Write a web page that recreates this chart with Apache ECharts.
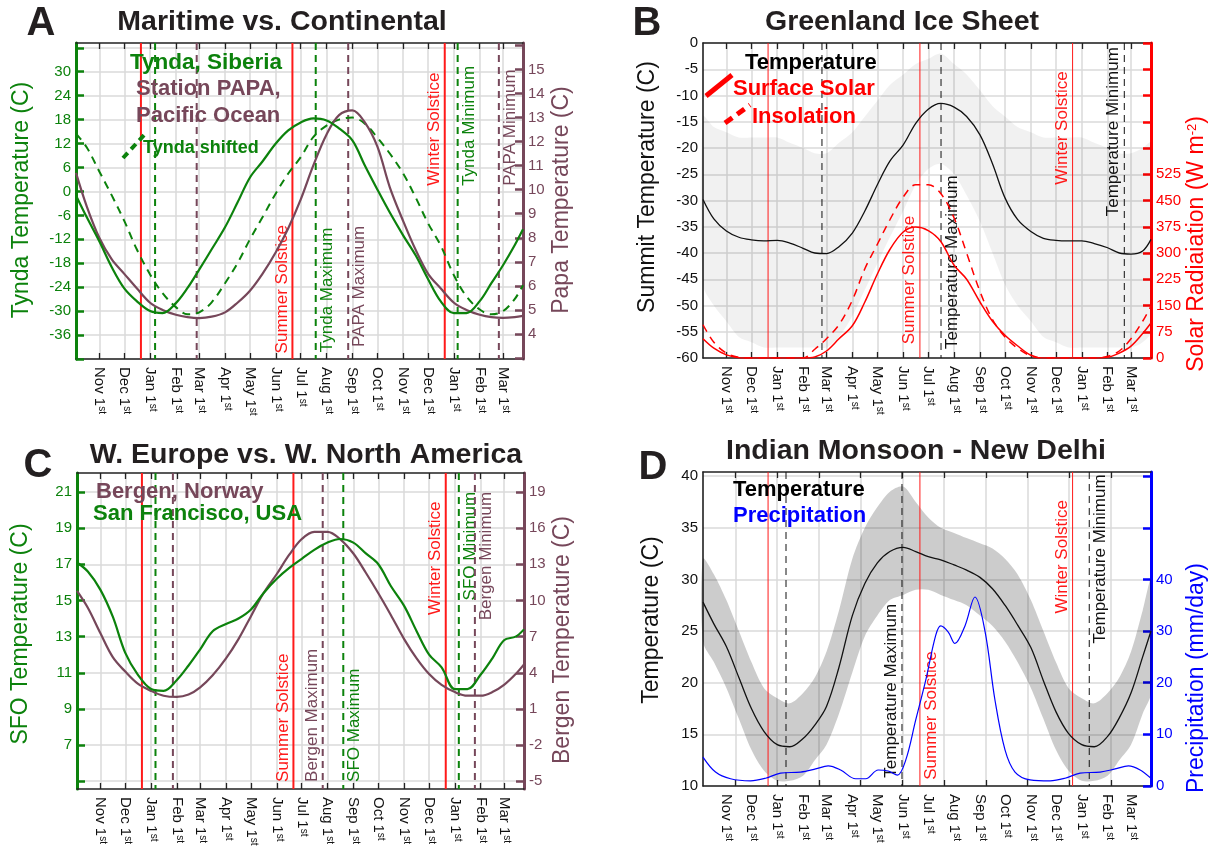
<!DOCTYPE html>
<html>
<head>
<meta charset="utf-8">
<script src="https://cdn.jsdelivr.net/npm/echarts@6/dist/echarts.min.js"></script>
<style>
  html, body { margin: 0; padding: 0; background: #fff; }
  #chart { width: 1209px; height: 857px; }
</style>
</head>
<body>
<div id="chart"></div>
<script>
// x values are days counted from Oct 1st of the first year
var DAYS = [3, 16, 31, 46, 61, 76, 92, 107, 123, 137, 151, 166, 182, 197, 212, 227, 243, 258, 273, 288, 304, 319,
    335, 350, 365, 380, 396, 411, 426, 441, 457, 472, 488, 502, 516, 530, 540];
var MONTH_STARTS = [31, 61, 92, 123, 151, 182, 212, 243, 273, 304, 335, 365, 396, 426, 457, 488, 516];
var MONTH_NAMES = ['Nov', 'Dec', 'Jan', 'Feb', 'Mar', 'Apr', 'May', 'Jun', 'Jul', 'Aug', 'Sep', 'Oct', 'Nov', 'Dec', 'Jan', 'Feb', 'Mar'];
var DELHI_TICKS = [42, 92, 142, 192, 242, 292, 342, 392, 442, 492];

/* A - Maritime vs. Continental */
var tyndaTemp = [-1, -6.5, -12.5, -19, -24.3, -27.5, -30, -30.5, -28, -24.2, -19.6, -14.5, -9, -2.8, 3.5, 7.5, 12, 15.3,
    17.3, 18.3, 17.8, 15.8, 12.8, 6.5, 0.5, -5.3, -11, -16, -22, -27.5, -30.5, -30.5, -27.5, -23, -18.5, -13.5, -9.5];
var tyndaShifted = [14.5, 11, 5, -1, -7.4, -14.5, -20.8, -25.5, -29, -30.8, -30.3, -27.8, -23, -18, -12, -6.5, -0.5, 4.5,
    8.6, 13.6, 16.5, 18, 18.5, 17, 13.5, 9.5, 4.5, -1.5, -8, -13.5, -21, -26.3, -29.6, -30.8, -30, -27, -23.5];
var papaTemp = [10.7, 9.3, 8.0, 7.1, 6.5, 5.9, 5.3, 5.0, 4.8, 4.7, 4.66, 4.72, 4.9, 5.3, 5.8, 6.5, 7.4, 8.4, 9.6, 11.0,
    12.3, 13.1, 13.3, 12.8, 11.8, 10.1, 8.7, 7.5, 6.5, 5.9, 5.3, 5.0, 4.8, 4.7, 4.67, 4.7, 4.75];
var tyndaTicks = [-42, -36, -30, -24, -18, -12, -6, 0, 6, 12, 18, 24, 30, 36];
var tyndaLabels = [-36, -30, -24, -18, -12, -6, 0, 6, 12, 18, 24, 30];
var papaTicks = [3, 4, 5, 6, 7, 8, 9, 10, 11, 12, 13, 14, 15, 16];
var papaLabels = [4, 5, 6, 7, 8, 9, 10, 11, 12, 13, 14, 15];
var eventsA = [
    {day: 81, y: 0, color: 'red', dash: false},
    {day: 98, y: 0, color: 'green', dash: true},
    {day: 148, y: 0, color: 'maroon', dash: true},
    {day: 263, y: -40.6, color: 'red', dash: false, text: 'Summer Solstice', side: 'left'},
    {day: 291, y: -40.3, color: 'green', dash: true, text: 'Tynda Maximum', side: 'right'},
    {day: 330, y: -39, color: 'maroon', dash: true, text: 'PAPA Maximum', side: 'right'},
    {day: 446, y: 1.4, color: 'red', dash: false, text: 'Winter Solstice', side: 'left'},
    {day: 461.5, y: 1.4, color: 'green', dash: true, text: 'Tynda Minimum', side: 'right'},
    {day: 511, y: 1.4, color: 'maroon', dash: true, text: 'PAPA Minimum', side: 'right'}
];

/* B - Greenland Ice Sheet */
var summitTemp = [-29.8, -33.5, -35.8, -37, -37.5, -37.7, -37.6, -38.1, -39.1, -40, -40.1, -38.8, -36.2, -32, -27, -22.5,
    -19.4, -15.3, -12.6, -11.5, -12.2, -14, -17.5, -23, -29.5, -33.6, -35.9, -37.2, -37.6, -37.7, -37.7, -38.2, -39, -40,
    -40.2, -39.6, -37.4];
var summitLow = [-46, -50, -53, -56, -57, -58, -58, -58, -58, -58, -58, -56, -52, -47, -42, -37, -32, -27, -24, -23, -25,
    -29, -34, -40, -46, -50, -53, -56, -57, -58, -58, -58, -58, -58, -58, -57, -55];
var summitHigh = [-14, -16, -17, -18, -18, -18, -18, -19, -20, -21, -21, -19, -17, -14, -11, -8, -6, -4, -3, -2, -4, -6,
    -9, -12, -14, -16, -17, -18, -18, -18, -18, -19, -20, -21, -21, -20, -19];
var insolSurface = [55, 28, 9, 1, 0, 0, 0, 0, 0, 3, 20, 55, 92, 160, 240, 310, 360, 374, 364, 333, 265, 225, 160, 105,
    65, 35, 8, 0, 0, 0, 0, 0, 2, 14, 34, 70, 100];
var insolDashed = [95, 45, 14, 2, 0, 0, 0, 0, 0, 25, 55, 95, 165, 255, 325, 395, 460, 495, 495, 470, 400, 300, 190, 110,
    60, 28, 6, 0, 0, 0, 0, 0, 5, 20, 55, 105, 148];
var summitTicks = [-60, -55, -50, -45, -40, -35, -30, -25, -20, -15, -10, -5, 0];
var solarTicks = [0, 75, 150, 225, 300, 375, 450, 525, 600, 675, 750, 825, 900];
var solarLabels = [0, 75, 150, 225, 300, 375, 450, 525];
var eventsB = [
    {day: 81, y: 0, color: 'red', dash: false, width: 1},
    {day: 145.6, y: 0, color: 'black', dash: true, width: 1},
    {day: 263, y: -57.4, color: 'red', dash: false, width: 1, text: 'Summer Solstice', side: 'left'},
    {day: 288.3, y: -58.3, color: 'black', dash: true, width: 1, text: 'Temperature Maximum', side: 'right'},
    {day: 446, y: -27, color: 'red', dash: false, width: 1, text: 'Winter Solstice', side: 'left'},
    {day: 508, y: -33, color: 'black', dash: true, width: 1, text: 'Temperature Minimum', side: 'left'}
];

/* C - W. Europe vs. W. North America */
var sfoTemp = [17.1, 16.6, 15.6, 14.1, 12.1, 10.9, 10.1, 10.0, 10.6, 11.4, 12.3, 13.3, 13.7, 14.0, 14.5, 15.4, 16.2,
    16.8, 17.3, 17.8, 18.2, 18.4, 18.2, 17.6, 17.0, 15.8, 14.7, 13.3, 12.0, 11.3, 10.1, 10.1, 10.9, 11.8, 12.8, 13.0, 13.4];
var bergenTemp = [10.8, 9.4, 7.3, 5.3, 4.1, 3.1, 2.5, 2.1, 2.0, 2.2, 2.8, 3.8, 5.2, 6.8, 8.7, 10.6, 12.2, 13.8, 15.1,
    15.7, 15.7, 15.1, 13.9, 12.3, 10.6, 8.8, 6.8, 5.2, 3.9, 3.0, 2.4, 2.1, 2.1, 2.4, 3.0, 3.9, 4.7];
var sfoTicks = [5, 7, 9, 11, 13, 15, 17, 19, 21];
var sfoLabels = [7, 9, 11, 13, 15, 17, 19, 21];
var bergenTicks = [-5, -2, 1, 4, 7, 10, 13, 16, 19];
var eventsC = [
    {day: 81, y: 10, color: 'red', dash: false},
    {day: 97.3, y: 10, color: 'green', dash: true},
    {day: 118.2, y: 10, color: 'maroon', dash: true},
    {day: 263, y: 4.96, color: 'red', dash: false, text: 'Summer Solstice', side: 'left'},
    {day: 298.2, y: 4.96, color: 'maroon', dash: true, text: 'Bergen Maximum', side: 'left'},
    {day: 322.9, y: 4.96, color: 'green', dash: true, text: 'SFO Maximum', side: 'right'},
    {day: 446, y: 14.2, color: 'red', dash: false, text: 'Winter Solstice', side: 'left'},
    {day: 461.7, y: 15, color: 'green', dash: true, text: 'SFO Minimum', side: 'right'},
    {day: 481, y: 13.9, color: 'maroon', dash: true, text: 'Bergen Minimum', side: 'right'}
];

/* D - Indian Monsoon - New Delhi */
var delhiTemp = [27.8, 25.7, 23.5, 20.5, 17.5, 15.3, 14, 13.8, 14.6, 15.9, 17.7, 21.5, 26.5, 29.6, 31.6, 32.7, 33.1,
    32.7, 32.2, 31.9, 31.4, 30.9, 30.2, 29.1, 27.5, 25.6, 23.4, 20.2, 17.2, 15.1, 14, 13.8, 14.8, 16.6, 19, 22.5, 25];
var delhiLow = [24, 22, 19.5, 16.5, 13.5, 11.5, 10.5, 10.5, 11, 12.5, 14, 17, 21, 24.5, 26.5, 28, 28.5, 29, 29, 28.5, 28,
    27.5, 26.5, 25.5, 24, 22, 19.5, 16.5, 13.5, 11.5, 10.5, 10.5, 11, 12.5, 14, 17, 19];
var delhiHigh = [32, 30.5, 28, 25, 22, 19.5, 18.5, 18, 19, 20.5, 23, 27, 32, 35, 37, 38.5, 39, 37.5, 36, 35, 34.5, 34,
    33.5, 33, 32, 30.5, 28, 25, 22, 19.5, 18.5, 18, 19, 20.5, 23, 27, 30];
var PRECIP_DAYS = [3, 18, 36, 60, 78, 96, 120, 138, 153, 168, 186, 198, 213, 225, 236, 246, 258, 270, 282, 288, 297, 305,
    317, 329, 341, 353, 365, 377, 395, 419, 437, 455, 479, 497, 513, 527, 540];
var delhiPrecip = [5.6, 2.7, 1.4, 1.0, 1.5, 2.5, 2.7, 3.3, 3.9, 3.1, 1.4, 1.4, 3.1, 2.9, 2.1, 5, 12.8, 20.5, 29.2, 31,
    29.8, 27.6, 31, 36.6, 30, 16.6, 7, 2.7, 1.2, 1.0, 1.5, 2.5, 2.7, 3.3, 3.9, 3.1, 1.5];
var delhiTicks = [10, 15, 20, 25, 30, 35, 40];
var precipTicks = [0, 10, 20, 30, 40, 50, 60];
var precipLabels = [0, 10, 20, 30, 40];
var eventsD = [
    {day: 81, y: 20, color: 'red', dash: false, width: 1},
    {day: 102.5, y: 20, color: 'black', dash: true, width: 1},
    {day: 241.5, y: 10.8, color: 'black', dash: true, width: 1, text: 'Temperature Maximum', side: 'left'},
    {day: 263, y: 10.6, color: 'red', dash: false, width: 1, text: 'Summer Solstice', side: 'right'},
    {day: 446, y: 26.7, color: 'red', dash: false, width: 1, text: 'Winter Solstice', side: 'left'},
    {day: 466, y: 23.8, color: 'black', dash: true, width: 1, text: 'Temperature Minimum', side: 'right'}
];

var FONT = 'Liberation Sans, Arial, Helvetica, sans-serif';
var GREEN = '#0c820c';
var MAROON = '#76475a';
var COLORS = {red: '#ff1a1a', green: GREEN, maroon: MAROON, black: '#111'};
var GRID_LINE = '#dadada';

function pairs(xs, ys) {
    return xs.map(function (x, i) { return [x, ys[i]]; });
}

function monthLabel(v) {
    var i = MONTH_STARTS.indexOf(Math.round(v));
    return i < 0 ? '' : '{m|' + MONTH_NAMES[i] + ' 1}{s|st}';
}

function xAxisPair(gi, tickValues) {
    var bottom = {
        type: 'value', gridIndex: gi, position: 'bottom', min: 3, max: 540,
        axisLine: {onZero: false, lineStyle: {color: '#222', width: 1.5}},
        axisTick: {inside: true, length: 6, customValues: tickValues, lineStyle: {color: '#222', width: 1.3}},
        axisLabel: {
            customValues: MONTH_STARTS, rotate: -90, margin: 8, formatter: monthLabel,
            rich: {
                m: {fontSize: 15, fontFamily: FONT, color: '#111'},
                s: {fontSize: 10, fontFamily: FONT, color: '#111', verticalAlign: 'top'}
            }
        },
        splitLine: {show: true, lineStyle: {color: GRID_LINE, width: 1.5}}
    };
    var top = {
        type: 'value', gridIndex: gi, position: 'top', min: 3, max: 540,
        axisLine: {onZero: false, lineStyle: {color: '#222', width: 1.5}},
        axisTick: {inside: true, length: 6, customValues: tickValues, lineStyle: {color: '#222', width: 1.3}},
        axisLabel: {show: false},
        splitLine: {show: false}
    };
    return [bottom, top];
}

function yAxisOf(gi, pos, min, max, ticks, labels, color, lineWidth, split) {
    return {
        type: 'value', gridIndex: gi, position: pos, min: min, max: max,
        axisLine: {show: true, onZero: false, lineStyle: {color: color, width: lineWidth}},
        axisTick: {show: true, inside: true, length: 8, customValues: ticks, lineStyle: {color: color, width: lineWidth > 2 ? 2.5 : 1}},
        axisLabel: {customValues: labels, margin: 5, color: color, fontSize: 15, fontFamily: FONT},
        splitLine: {show: split, lineStyle: {color: GRID_LINE, width: 1.5}}
    };
}

function curve(xi, yi, xs, ys, color, width, dashed) {
    return {
        type: 'line', xAxisIndex: xi, yAxisIndex: yi, data: pairs(xs, ys),
        symbol: 'none', smooth: 0.35, silent: true, z: 4,
        lineStyle: {color: color, width: width, type: dashed ? [8, 6] : 'solid'}
    };
}

function band(xi, yi, lows, highs, fill) {
    return {
        type: 'custom', xAxisIndex: xi, yAxisIndex: yi, silent: true, z: 1,
        data: [[DAYS[0], lows[0]]],
        renderItem: function (params, api) {
            var pts = [];
            for (var i = 0; i < DAYS.length; i++) pts.push(api.coord([DAYS[i], highs[i]]));
            for (var j = DAYS.length - 1; j >= 0; j--) pts.push(api.coord([DAYS[j], lows[j]]));
            return {type: 'polygon', shape: {points: pts, smooth: 0.3}, style: {fill: fill}};
        }
    };
}

function eventSeries(xi, yi, events) {
    return {
        type: 'custom', xAxisIndex: xi, yAxisIndex: yi, silent: true, z: 3,
        data: events.map(function (e) { return [e.day, e.y]; }),
        renderItem: function (params, api) {
            var e = events[params.dataIndex];
            var cs = params.coordSys;
            var p = api.coord([e.day, e.y]);
            var col = COLORS[e.color];
            var kids = [{
                type: 'line',
                shape: {x1: p[0], y1: cs.y, x2: p[0], y2: cs.y + cs.height},
                style: {stroke: col, lineWidth: e.width || 2, lineDash: e.dash ? [7, 5] : null}
            }];
            if (e.text) {
                kids.push({
                    type: 'text', x: p[0] + (e.side === 'left' ? -2 : 3), y: p[1], rotation: Math.PI / 2,
                    style: {
                        text: e.text, fill: col, font: '17px ' + FONT,
                        align: 'left', verticalAlign: e.side === 'left' ? 'bottom' : 'top'
                    }
                });
            }
            return {type: 'group', children: kids};
        }
    };
}

function txt(x, y, text, color, size, bold, rot) {
    return {
        type: 'text', x: x, y: y, rotation: rot || 0, z: 50,
        style: {
            text: text, fill: color, font: (bold ? 'bold ' : '') + size + 'px ' + FONT,
            align: 'center', verticalAlign: 'middle'
        }
    };
}

function ltxt(x, y, text, color, size) {
    return {
        type: 'text', x: x, y: y, z: 50,
        style: {text: text, fill: color, font: 'bold ' + size + 'px ' + FONT, align: 'left', verticalAlign: 'middle'}
    };
}

function seg(x1, y1, x2, y2, color, w, dash) {
    return {type: 'line', z: 50, shape: {x1: x1, y1: y1, x2: x2, y2: y2}, style: {stroke: color, lineWidth: w, lineDash: dash || null}};
}

var chart = echarts.init(document.getElementById('chart'), null, {renderer: 'canvas'});

var xAxes = [].concat(
    xAxisPair(0, MONTH_STARTS), xAxisPair(1, MONTH_STARTS), xAxisPair(2, MONTH_STARTS), xAxisPair(3, DELHI_TICKS)
);
var yAxes = [
    yAxisOf(0, 'left', -42, 37.2, tyndaTicks, tyndaLabels, GREEN, 3, true),
    yAxisOf(0, 'right', 2.96, 16.1, papaTicks, papaLabels, MAROON, 3, false),
    yAxisOf(1, 'left', -60, 0, summitTicks, summitTicks, '#111', 1.5, true),
    yAxisOf(1, 'right', 0, 900, solarTicks, solarLabels, '#ff0000', 3, false),
    yAxisOf(2, 'left', 4.57, 22.05, sfoTicks, sfoLabels, GREEN, 3, true),
    yAxisOf(2, 'right', -5.64, 20.58, bergenTicks, bergenTicks, MAROON, 3, false),
    yAxisOf(3, 'left', 10, 40.4, delhiTicks, delhiTicks, '#111', 1.5, true),
    yAxisOf(3, 'right', 0, 60.8, precipTicks, precipLabels, '#0000ff', 3, false)
];
yAxes[2].axisTick.show = false;
yAxes[6].axisTick.show = false;

var option = {
    backgroundColor: '#fff',
    animation: false,
    textStyle: {fontFamily: FONT},
    grid: [
        {left: 76, top: 43, width: 447, height: 316},
        {left: 703, top: 43, width: 448, height: 315},
        {left: 77, top: 473, width: 447, height: 316},
        {left: 703, top: 472, width: 448, height: 314}
    ],
    xAxis: xAxes,
    yAxis: yAxes,
    series: [
        eventSeries(0, 0, eventsA),
        curve(0, 0, DAYS, tyndaShifted, GREEN, 2, true),
        curve(0, 1, DAYS, papaTemp, MAROON, 2.2, false),
        curve(0, 0, DAYS, tyndaTemp, GREEN, 2.2, false),

        band(2, 2, summitLow, summitHigh, 'rgba(0,0,0,0.055)'),
        eventSeries(2, 2, eventsB),
        curve(2, 2, DAYS, summitTemp, '#111', 1.3, false),
        curve(2, 3, DAYS, insolDashed, '#ff0000', 1.5, true),
        curve(2, 3, DAYS, insolSurface, '#ff0000', 1.5, false),

        eventSeries(4, 4, eventsC),
        curve(4, 5, DAYS, bergenTemp, MAROON, 2.2, false),
        curve(4, 4, DAYS, sfoTemp, GREEN, 2.2, false),

        band(6, 6, delhiLow, delhiHigh, 'rgba(0,0,0,0.2)'),
        eventSeries(6, 6, eventsD),
        curve(6, 6, DAYS, delhiTemp, '#111', 1.3, false),
        curve(6, 7, PRECIP_DAYS, delhiPrecip, '#0000ff', 1.2, false)
    ],
    graphic: [
        txt(41, 24, 'A', '#231f20', 40, true),
        txt(282, 22, 'Maritime vs. Continental', '#231f20', 28.5, true),
        txt(647, 24, 'B', '#231f20', 40, true),
        txt(902, 22, 'Greenland Ice Sheet', '#231f20', 28.5, true),
        txt(38, 466, 'C', '#231f20', 40, true),
        txt(306, 455, 'W. Europe vs. W. North America', '#231f20', 28.5, true),
        txt(653, 468, 'D', '#231f20', 40, true),
        txt(916, 451, 'Indian Monsoon - New Delhi', '#231f20', 28.5, true),

        txt(22, 200, 'Tynda Temperature (C)', GREEN, 23, false, Math.PI / 2),
        txt(562, 200, 'Papa Temperature (C)', MAROON, 23, false, Math.PI / 2),
        txt(648, 187, 'Summit Temperature (C)', '#111', 23, false, Math.PI / 2),
        {
            type: 'text', x: 1197, y: 244, rotation: Math.PI / 2, z: 50,
            style: {
                text: '{a|Solar Radiaiation (W m}{s|-2}{a|)}', align: 'center', verticalAlign: 'middle',
                rich: {
                    a: {fontSize: 23, fontFamily: FONT, fill: '#ff0000', color: '#ff0000'},
                    s: {fontSize: 13, fontFamily: FONT, fill: '#ff0000', color: '#ff0000', verticalAlign: 'top'}
                }
            }
        },
        txt(21, 634, 'SFO Temperature (C)', GREEN, 23, false, Math.PI / 2),
        txt(563, 640, 'Bergen Temperature (C)', MAROON, 23, false, Math.PI / 2),
        txt(652, 620, 'Temperature (C)', '#111', 23, false, Math.PI / 2),
        txt(1197, 678, 'Precipitation (mm/day)', '#0000ff', 23, false, Math.PI / 2),

        ltxt(130, 63, 'Tynda, Siberia', GREEN, 22.5),
        ltxt(136, 89, 'Station PAPA,', MAROON, 22),
        ltxt(136, 116, 'Pacific Ocean', MAROON, 22),
        ltxt(143, 148, 'Tynda shifted', GREEN, 18),
        seg(123, 158, 146, 133, GREEN, 4, [7, 5]),

        ltxt(745, 63, 'Temperature', '#000', 22),
        ltxt(733, 89, 'Surface Solar', '#ff0000', 22),
        ltxt(752, 117, 'Insolation', '#ff0000', 22),
        seg(706, 96, 732, 75, '#ff0000', 5),
        seg(725, 123, 750, 105, '#ff0000', 5, [9, 6]),

        ltxt(96, 492, 'Bergen, Norway', MAROON, 22),
        ltxt(93, 514, 'San Francisco, USA', GREEN, 22),

        ltxt(733, 490, 'Temperature', '#000', 22),
        ltxt(733, 516, 'Precipitation', '#0000ff', 22)
    ]
};

chart.setOption(option);
window.addEventListener('resize', function () { chart.resize(); });
</script>
</body>
</html>
